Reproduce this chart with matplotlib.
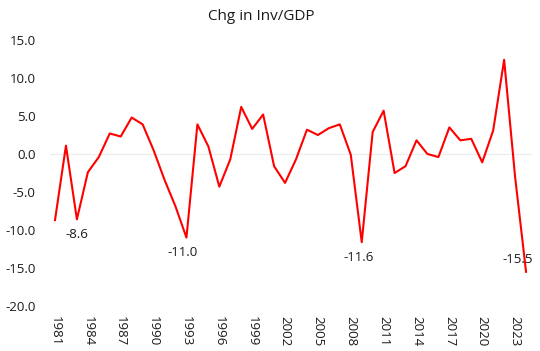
import matplotlib
matplotlib.use("Agg")
import matplotlib.pyplot as plt

# Change in inventories / GDP
years = list(range(1981, 2025))
values = [-8.7, 1.1, -8.6, -2.4, -0.4, 2.7, 2.3, 4.8, 3.9, 0.5,
          -3.4, -6.9, -11.0, 3.9, 1.0, -4.3, -0.7, 6.2, 3.3, 5.2,
          -1.6, -3.8, -0.7, 3.2, 2.5, 3.4, 3.9, -0.1, -11.6, 2.9,
          5.7, -2.5, -1.6, 1.8, 0.0, -0.4, 3.5, 1.8, 2.0, -1.1,
          3.1, 12.4, -3.0, -15.5]
tick_years = list(range(1981, 2024, 3))
y_ticks = [15, 10, 5, 0, -5, -10, -15, -20]

# data labels: year -> (dx, dy) offset in points
labelled = {1983: (0, -11), 1993: (-3, -11), 2009: (-2, -11), 2024: (-6, 9)}

plt.rcParams['font.family'] = ['Open Sans', 'DejaVu Sans']
text_col = '#1a1a1a'

fig = plt.figure(figsize=(5.4, 3.51), dpi=100)
ax = fig.add_axes([0.0917, 0.1282, 0.8926, 0.7578])

ax.axhline(0, color='#ececec', lw=0.8, zorder=1)
ax.plot(years, values, color='#ff0000', lw=1.5, zorder=3)

for yr, (dx, dy) in labelled.items():
    v = values[years.index(yr)]
    ax.annotate(f"{v:.1f}", (yr, v), xytext=(dx, dy), textcoords='offset points',
                ha='center', va='center', fontsize=9.5, color=text_col)

ax.set_xlim(1980.5, 2024.5)
ax.set_ylim(-20, 15)
ax.set_xticks(tick_years)
ax.set_xticklabels([str(y) for y in tick_years], rotation=-90, fontsize=9.5, color=text_col)
ax.set_yticks(y_ticks)
ax.set_yticklabels([f"{y:.1f}" for y in y_ticks], fontsize=9.5, color=text_col)
ax.tick_params(axis='x', length=0, pad=7)
ax.tick_params(axis='y', length=0, pad=10)
for s in ax.spines.values():
    s.set_visible(False)

fig.text(0.484, 0.952, "Chg in Inv/GDP", ha='center', va='center', fontsize=11, color=text_col)

fig.savefig("out.png", dpi=100)
